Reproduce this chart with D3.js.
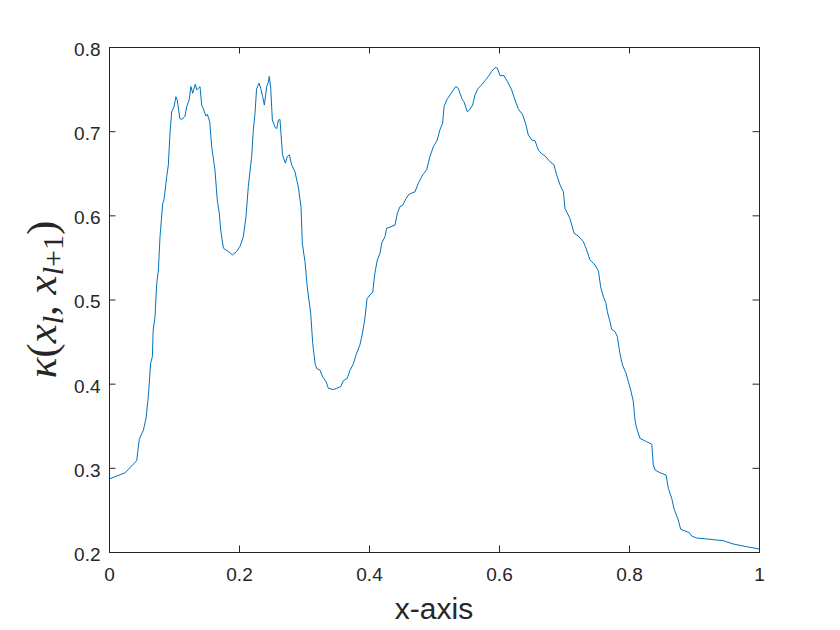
<!DOCTYPE html>
<html>
<head>
<meta charset="utf-8">
<script src="https://cdn.jsdelivr.net/npm/d3@7"></script>
<style>
  html, body { margin: 0; padding: 0; background: #fff; }
  svg { display: block; }
</style>
</head>
<body>
<svg id="chart" width="840" height="630"></svg>
<script>
const xTicks = [0, 0.2, 0.4, 0.6, 0.8, 1];
const yTicks = [0.2, 0.3, 0.4, 0.5, 0.6, 0.7, 0.8];
const xTickLabels = ["0", "0.2", "0.4", "0.6", "0.8", "1"];
const yTickLabels = ["0.2", "0.3", "0.4", "0.5", "0.6", "0.7", "0.8"];

const xValues = [
  0, 0.0246, 0.0426, 0.0466, 0.053, 0.057, 0.0605, 0.064, 0.0667, 0.068,
  0.0708, 0.0734, 0.076, 0.0785, 0.0826, 0.0845, 0.0888, 0.0913, 0.0938, 0.0964,
  0.1, 0.103, 0.105, 0.109, 0.112, 0.117, 0.1195, 0.1235, 0.126, 0.1288,
  0.1328, 0.135, 0.1374, 0.14, 0.1426, 0.146, 0.149, 0.1513, 0.155, 0.158,
  0.163, 0.1666, 0.1697, 0.1718, 0.176, 0.1836, 0.19, 0.1964, 0.2015, 0.2066,
  0.2108, 0.2143, 0.2195, 0.222, 0.2246, 0.227, 0.2308, 0.2334, 0.2364, 0.239,
  0.2426, 0.245, 0.2466, 0.2488, 0.2513, 0.2554, 0.258, 0.2605, 0.263, 0.267,
  0.2713, 0.2743, 0.2774, 0.281, 0.286, 0.2912, 0.2954, 0.2974, 0.3015, 0.305,
  0.3103, 0.3134, 0.317, 0.3195, 0.3246, 0.3288, 0.334, 0.3374, 0.345, 0.3503,
  0.3564, 0.3605, 0.3666, 0.3708, 0.3758, 0.38, 0.386, 0.39, 0.394, 0.397,
  0.4015, 0.4057, 0.409, 0.4128, 0.417, 0.4195, 0.4246, 0.427, 0.4323, 0.44,
  0.4436, 0.4477, 0.4518, 0.457, 0.462, 0.4708, 0.4758, 0.4826, 0.4887, 0.4938,
  0.499, 0.505, 0.509, 0.5133, 0.5154, 0.5195, 0.5246, 0.5297, 0.5334, 0.5374,
  0.5426, 0.546, 0.5513, 0.5543, 0.5595, 0.563, 0.568, 0.5734, 0.5785, 0.5836,
  0.5887, 0.5938, 0.5974, 0.6015, 0.6077, 0.613, 0.6195, 0.6246, 0.63, 0.6364,
  0.6415, 0.645, 0.6503, 0.6554, 0.6605, 0.6657, 0.6708, 0.6785, 0.6846, 0.6887,
  0.694, 0.699, 0.7015, 0.709, 0.7156, 0.722, 0.7297, 0.7338, 0.74, 0.7477,
  0.753, 0.7564, 0.7605, 0.7646, 0.7667, 0.7708, 0.7733, 0.7785, 0.782, 0.786,
  0.79, 0.7954, 0.799, 0.8026, 0.8067, 0.8092, 0.8118, 0.817, 0.8272, 0.835,
  0.8374, 0.84, 0.8477, 0.857, 0.8605, 0.8657, 0.869, 0.8758, 0.8795, 0.886,
  0.8928, 0.8964, 0.904, 0.9195, 0.945, 0.9605, 0.981, 1.0
];
const kappaValues = [
  0.2867, 0.294, 0.3085, 0.334, 0.345, 0.359, 0.3845, 0.424, 0.432, 0.4637,
  0.4796, 0.519, 0.535, 0.5746, 0.614, 0.618, 0.646, 0.66, 0.6975, 0.723,
  0.729, 0.741, 0.737, 0.715, 0.714, 0.718, 0.729, 0.738, 0.753, 0.745,
  0.7557, 0.749, 0.751, 0.753, 0.731, 0.725, 0.718, 0.720, 0.711, 0.6815,
  0.654, 0.618, 0.6024, 0.5826, 0.561, 0.557, 0.553, 0.557, 0.563, 0.5746,
  0.5985, 0.634, 0.67, 0.701, 0.721, 0.75, 0.757, 0.751, 0.741, 0.731,
  0.753, 0.7576, 0.765, 0.751, 0.7133, 0.7046, 0.703, 0.713, 0.714, 0.6717,
  0.662, 0.67, 0.6717, 0.66, 0.652, 0.634, 0.61, 0.5667, 0.545, 0.515,
  0.4836, 0.448, 0.424, 0.418, 0.416, 0.408, 0.4023, 0.3945, 0.393, 0.3945,
  0.3965, 0.4035, 0.4064, 0.416, 0.4234, 0.434, 0.446, 0.46, 0.4796, 0.501,
  0.5053, 0.509, 0.531, 0.547, 0.555, 0.567, 0.5746, 0.5846, 0.586, 0.5885,
  0.6024, 0.6103, 0.612, 0.62, 0.6253, 0.628, 0.638, 0.648, 0.654, 0.67,
  0.6815, 0.6895, 0.7015, 0.7094, 0.729, 0.737, 0.743, 0.749, 0.753, 0.751,
  0.739, 0.735, 0.723, 0.725, 0.731, 0.743, 0.751, 0.755, 0.760, 0.765,
  0.771, 0.7755, 0.775, 0.766, 0.766, 0.759, 0.749, 0.737, 0.726, 0.7195,
  0.7075, 0.6955, 0.6895, 0.6887, 0.6776, 0.673, 0.6705, 0.6637, 0.66, 0.648,
  0.636, 0.628, 0.6083, 0.5965, 0.5787, 0.5755, 0.5687, 0.561, 0.547, 0.541,
  0.5338, 0.515, 0.5034, 0.4955, 0.4855, 0.4736, 0.4646, 0.4618, 0.456, 0.436,
  0.422, 0.4124, 0.4024, 0.3925, 0.3786, 0.3568, 0.347, 0.335, 0.331, 0.328,
  0.3034, 0.2975, 0.2942, 0.2915, 0.2757, 0.2638, 0.252, 0.238, 0.227, 0.225,
  0.223, 0.219, 0.2166, 0.2155, 0.2134, 0.2095, 0.2063, 0.2036
];

const W = 840, H = 630;
const margin = { left: 109, right: 81, top: 47, bottom: 78 };
const iw = W - margin.left - margin.right;
const ih = H - margin.top - margin.bottom;
const axisColor = "#262626";
const font = "'Liberation Sans', Arial, Helvetica, sans-serif";

const svg = d3.select("#chart");
const g = svg.append("g").attr("transform", `translate(${margin.left},${margin.top})`);

const x = d3.scaleLinear().domain([0, 1]).range([0, iw]);
const y = d3.scaleLinear().domain([0.2, 0.8]).range([ih, 0]);

// line
const data = xValues.map((v, i) => [v, kappaValues[i]]);
g.append("path")
  .datum(data)
  .attr("fill", "none")
  .attr("stroke", "#0072BD")
  .attr("stroke-width", 1)
  .attr("stroke-linejoin", "round")
  .attr("d", d3.line().x(d => x(d[0])).y(d => y(d[1])));

function style(sel) {
  sel.select(".domain").remove();
  sel.selectAll(".tick line").attr("stroke", axisColor).attr("stroke-width", 1);
  sel.selectAll(".tick text").attr("fill", axisColor).style("font-family", font).style("font-size", "19px");
}

const tickLen = 6.5;
g.append("g").attr("transform", `translate(0,${ih})`)
  .call(d3.axisBottom(x).tickValues(xTicks).tickFormat((d, i) => xTickLabels[i]).tickSize(-tickLen).tickPadding(16))
  .call(style);
g.append("g")
  .call(d3.axisTop(x).tickValues(xTicks).tickFormat("").tickSize(-tickLen))
  .call(style);
const leftAx = g.append("g")
  .call(d3.axisLeft(y).tickValues(yTicks).tickFormat((d, i) => yTickLabels[i]).tickSize(-tickLen).tickPadding(8.5))
  .call(style);
leftAx.selectAll(".tick text").attr("dy", "0.44em");
g.append("g").attr("transform", `translate(${iw},0)`)
  .call(d3.axisRight(y).tickValues(yTicks).tickFormat("").tickSize(-tickLen))
  .call(style);

// box
g.append("rect")
  .attr("x", 0).attr("y", 0).attr("width", iw).attr("height", ih)
  .attr("fill", "none").attr("stroke", axisColor).attr("stroke-width", 1)
  .attr("shape-rendering", "crispEdges");

// x label
svg.append("text")
  .attr("x", margin.left + iw / 2)
  .attr("y", 619)
  .attr("text-anchor", "middle")
  .attr("fill", axisColor)
  .style("font-family", font)
  .style("font-size", "30px")
  .text("x-axis");

// y label  κ(x_l, x_{l+1})
const serif = "'Liberation Serif', 'DejaVu Serif', serif";
const yl = svg.append("text")
  .attr("transform", `translate(56,${margin.top + ih / 2}) rotate(-90)`)
  .attr("text-anchor", "middle")
  .attr("fill", axisColor)
  .style("font-family", serif)
  .style("font-size", "43px");
yl.append("tspan").style("font-style", "italic").text("κ");
yl.append("tspan").text("(");
yl.append("tspan").style("font-style", "italic").text("x");
yl.append("tspan").style("font-style", "italic").style("font-size", "30px").attr("dy", "7").text("l");
yl.append("tspan").attr("dy", "-7").text(", ");
yl.append("tspan").style("font-style", "italic").text("x");
yl.append("tspan").style("font-style", "italic").style("font-size", "30px").attr("dy", "7").text("l");
yl.append("tspan").style("font-size", "30px").text("+1");
yl.append("tspan").attr("dy", "-7").text(")");
</script>
</body>
</html>
